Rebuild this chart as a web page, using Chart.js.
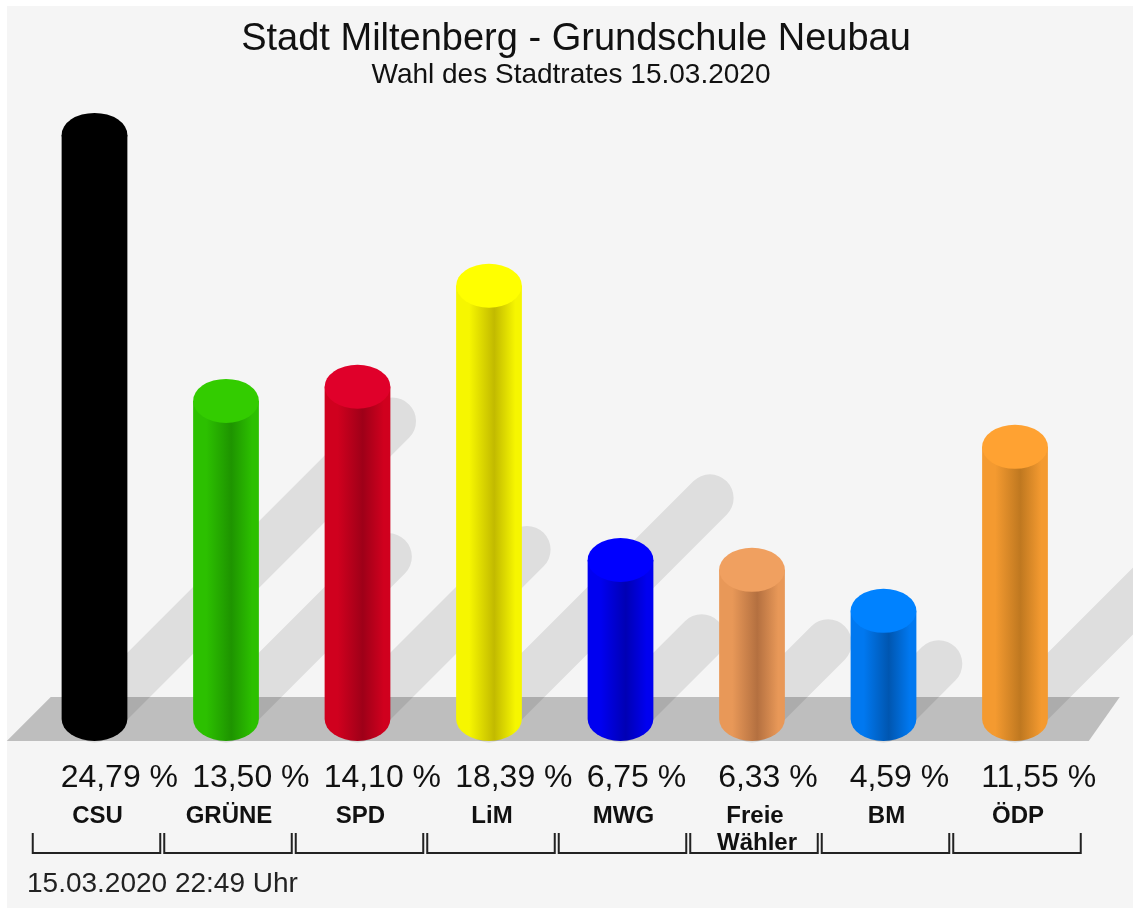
<!DOCTYPE html>
<html>
<head>
<meta charset="utf-8">
<script src="https://cdn.jsdelivr.net/npm/chart.js@4/dist/chart.umd.min.js"></script>
<style>
  html, body { margin: 0; padding: 0; background: #ffffff; }
  #wrap { width: 1133px; height: 908px; }
</style>
</head>
<body>
<div id="wrap"><canvas id="wahlChart" width="1133" height="908"></canvas></div>
<script>
// Daten
const parties = ['CSU', 'GRÜNE', 'SPD', 'LiM', 'MWG', ['Freie', 'Wähler'], 'BM', 'ÖDP'];
const shares = [24.79, 13.50, 14.10, 18.39, 6.75, 6.33, 4.59, 11.55];
const capColors = ['#000000', '#33cc00', '#e0002a', '#ffff00', '#0000ff', '#f0a060', '#0082ff', '#ffa232'];
const lightColors = ['#000000', '#2cc000', '#d0001e', '#f6f600', '#0000f0', '#e89858', '#0078f0', '#f49a30'];
const darkColors = ['#000000', '#1e9400', '#9e0018', '#c2ba00', '#0000b4', '#b47040', '#0056b0', '#bf7820'];

const titleText = 'Stadt Miltenberg - Grundschule Neubau';
const subtitleText = 'Wahl des Stadtrates 15.03.2020';
const stampText = '15.03.2020 22:49 Uhr';

const CAP_RY = 22;
const FONT = '"Liberation Sans", Arial, sans-serif';

function fmt(v) {
    return v.toFixed(2).replace('.', ',') + ' %';
}

// Zylinder-Verlauf (links hell, Mitte-rechts dunkel)
function bodyGradient(ctx, cx, w, i) {
    const g = ctx.createLinearGradient(cx - w / 2, 0, cx + w / 2, 0);
    g.addColorStop(0, lightColors[i]);
    g.addColorStop(0.2, lightColors[i]);
    g.addColorStop(0.58, darkColors[i]);
    g.addColorStop(0.9, lightColors[i]);
    g.addColorStop(1, lightColors[i]);
    return g;
}

function barWidth(chart) {
    return chart.scales.x.width / parties.length * 0.5;
}

const cylinderPlugin = {
    id: 'cylinder',
    beforeDraw(chart) {
        const ctx = chart.ctx;
        ctx.save();
        ctx.fillStyle = '#f5f5f5';
        ctx.fillRect(7, 6, chart.width - 7, chart.height - 6);
        ctx.restore();
    },
    beforeDatasetsDraw(chart) {
        const ctx = chart.ctx;
        const area = chart.chartArea;
        const base = chart.scales.y.getPixelForValue(0);
        ctx.save();
        // Boden
        ctx.fillStyle = '#bebebe';
        ctx.beginPath();
        ctx.moveTo(area.left - CAP_RY, base + CAP_RY);
        ctx.lineTo(area.left + CAP_RY, base - CAP_RY);
        ctx.lineTo(area.right + 39, base - CAP_RY);
        ctx.lineTo(area.right + 8, base + CAP_RY);
        ctx.closePath();
        ctx.fill();
        // Schatten
        const meta = chart.getDatasetMeta(0);
        const w = barWidth(chart);
        ctx.strokeStyle = 'rgba(0,0,0,0.09)';
        ctx.lineWidth = w * 0.72;
        ctx.lineCap = 'round';
        ctx.beginPath();
        meta.data.forEach((el) => {
            const d = (el.base - el.y) * 0.51;
            ctx.moveTo(el.x, el.base);
            ctx.lineTo(el.x + d, el.base - d);
        });
        ctx.stroke();
        ctx.restore();
    },
    afterDatasetsDraw(chart) {
        const ctx = chart.ctx;
        const meta = chart.getDatasetMeta(0);
        ctx.save();
        meta.data.forEach((el, i) => {
            const w = el.width;
            // unterer Abschluss
            ctx.fillStyle = bodyGradient(ctx, el.x, w, i);
            ctx.beginPath();
            ctx.ellipse(el.x, el.base, w / 2, CAP_RY, 0, 0, Math.PI);
            ctx.fill();
            // Deckel
            ctx.fillStyle = capColors[i];
            ctx.beginPath();
            ctx.ellipse(el.x, el.y, w / 2, CAP_RY, 0, 0, Math.PI * 2);
            ctx.fill();
        });
        ctx.restore();
    },
    afterDraw(chart) {
        const ctx = chart.ctx;
        const xs = chart.scales.x;
        const step = xs.width / parties.length;
        const w = barWidth(chart);
        ctx.save();
        ctx.fillStyle = '#111111';
        ctx.textAlign = 'center';
        ctx.textBaseline = 'alphabetic';
        ctx.font = '38px ' + FONT;
        ctx.fillText(titleText, 576, 50);
        ctx.font = '28px ' + FONT;
        ctx.fillText(subtitleText, 571, 83);

        shares.forEach((v, i) => {
            const cx = xs.getPixelForValue(i);
            ctx.textAlign = 'left';
            ctx.font = '32px ' + FONT;
            ctx.fillStyle = '#111111';
            ctx.fillText(fmt(v), cx - w / 2 - 1, 787);

            ctx.textAlign = 'center';
            ctx.font = 'bold 24px ' + FONT;
            const lab = parties[i];
            if (Array.isArray(lab)) {
                ctx.fillText(lab[0], cx + 3, 823);
                ctx.fillText(lab[1], cx + 5, 850);
            } else {
                ctx.fillText(lab, cx + 3, 823);
            }

            // Klammer unter jeder Kategorie
            const left = cx - step / 2 + 4;
            const right = cx + step / 2;
            ctx.strokeStyle = '#222222';
            ctx.lineWidth = 2;
            ctx.beginPath();
            ctx.moveTo(left, 833);
            ctx.lineTo(left, 853);
            ctx.lineTo(right, 853);
            ctx.lineTo(right, 833);
            ctx.stroke();
        });

        ctx.textAlign = 'left';
        ctx.font = '28px ' + FONT;
        ctx.fillStyle = '#222222';
        ctx.fillText(stampText, 27, 892);
        ctx.restore();
    }
};

const chartConfig = {
    type: 'bar',
    data: {
        labels: parties,
        datasets: [{
            data: shares,
            backgroundColor: function (c) {
                const chart = c.chart;
                if (!chart.chartArea) return lightColors[c.dataIndex];
                const cx = chart.scales.x.getPixelForValue(c.dataIndex);
                return bodyGradient(chart.ctx, cx, barWidth(chart), c.dataIndex);
            },
            borderWidth: 0,
            barPercentage: 0.5,
            categoryPercentage: 1.0
        }]
    },
    options: {
        responsive: false,
        animation: false,
        layout: {
            padding: { left: 28.75, right: 52.25, top: 106.4, bottom: 189 }
        },
        scales: {
            x: { display: false },
            y: { display: false, min: 0, max: 26 }
        },
        plugins: {
            legend: { display: false },
            tooltip: { enabled: false }
        }
    },
    plugins: [cylinderPlugin]
};

new Chart(document.getElementById('wahlChart').getContext('2d'), chartConfig);
</script>
</body>
</html>
